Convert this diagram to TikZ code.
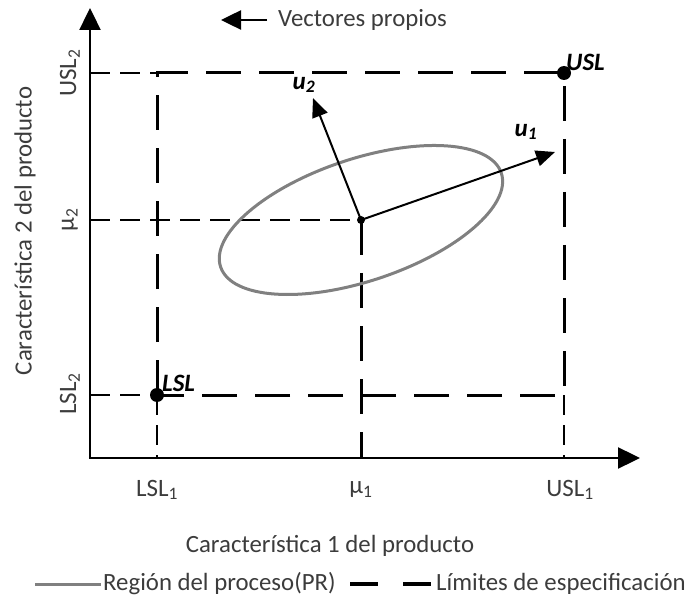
\documentclass[tikz,border=0pt]{standalone}
\usepackage{fontspec}
\setmainfont{Carlito}
\usetikzlibrary{arrows.meta, positioning, calc}
\definecolor{txtgray}{HTML}{3C3C3C}
\definecolor{regiongray}{HTML}{808080}
\tikzset{
  axisline/.style={line width=2.4pt, -{Triangle[length=22pt,width=21pt]}},
  speclim/.style={line width=3pt, dash pattern=on 35pt off 18pt},
  guideline/.style={line width=2pt, dash pattern=on 20pt off 10pt},
  eigvec/.style={line width=2pt, -{Triangle[length=19pt,width=16pt]}},
  biglab/.style={font=\fontsize{24.8}{28}\selectfont, text=txtgray, inner sep=2pt},
  ticklab/.style={font=\fontsize{25}{28}\selectfont, text=txtgray, inner sep=2pt},
  pointlab/.style={font=\fontsize{25}{28}\selectfont\bfseries\itshape, inner sep=1pt},
  specdot/.style={circle, fill=black, inner sep=0pt, minimum size=14pt},
  centdot/.style={circle, fill=black, inner sep=0pt, minimum size=8pt}
}

\begin{document}
\begin{tikzpicture}[x=1pt, y=-1pt]
\useasboundingbox (0,0) rectangle (697,607);

% key points
\coordinate (origin) at (90,458);
\coordinate (ytop)   at (90,8);
\coordinate (xend)   at (640,458);
\coordinate (lsl)    at (157,395);
\coordinate (usl)    at (564,73);
\coordinate (mu)     at (361,220);
\coordinate (u1tip)  at (555,152);
\coordinate (u2tip)  at (313,98);

% guide lines from the axes
\draw[guideline] (origin |- usl) -- (lsl |- usl);
\draw[guideline] (origin |- lsl) -- (lsl);
\draw[guideline] (origin |- mu) -- (mu);
\draw[guideline] (lsl) -- (lsl |- origin);
\draw[guideline] (usl |- lsl) -- (usl |- origin);

% specification limits
\draw[speclim] (lsl) rectangle (usl);
\draw[speclim] (mu) -- (mu |- origin);

% axes
\draw[axisline] (origin) -- (ytop);
\draw[axisline] ([xshift=-1.2pt]origin) -- (xend);

% process region and eigenvectors
\draw[regiongray, line width=3pt, rotate around={18.5:(mu)}] (mu) ellipse [x radius=148, y radius=61];
\draw[eigvec] (mu) -- (u1tip);
\draw[eigvec] (mu) -- (u2tip);
\node[centdot] (mudot) at (mu) {};
\node[pointlab] (u1lab) at (526,132) {u\textsubscript{1}};
\node[pointlab] (u2lab) at (304,85) {u\textsubscript{2}};

% limit points
\node[specdot] (usldot) at (usl) {};
\node[specdot] (lsldot) at (lsl) {};
\node[pointlab, anchor=south west] (usllab) at (565,72) {USL};
\node[pointlab, anchor=south west] (lsllab) at (161,393) {LSL};

% tick labels
\node[ticklab] (lsl1) at (lsl |- 0,490) {LSL\textsubscript{1}};
\node[ticklab] (mu1)  at (mu |- 0,490) {μ\textsubscript{1}};
\node[ticklab] (usl1) at ([xshift=6pt]usl |- 0,490) {USL\textsubscript{1}};
\node[ticklab, rotate=90] (lsl2) at (70,394) {LSL\textsubscript{2}};
\node[ticklab, rotate=90] (mu2)  at (70,220) {μ\textsubscript{2}};
\node[ticklab, rotate=90] (usl2) at (70,73) {USL\textsubscript{2}};

% axis titles
\node[biglab] (xtitle) at (330,546) {Característica 1 del producto};
\node[biglab, rotate=90] (ytitle) at (25,231) {Característica 2 del producto};

% eigenvector key
\node[biglab, anchor=west] (vp) at (276,20) {Vectores propios};
\coordinate (vptip) at (221,20);
\draw[line width=2.5pt, -{Triangle[length=20pt,width=19pt]}, shorten <=9pt] (vp.west) -- (vptip);

% legend
\node[biglab, anchor=west] (regleg) at (101,584) {Región del proceso(PR)};
\node[biglab, anchor=west] (limleg) at (434,584) {Límites de especificación};
\coordinate (regstart) at (35,584);
\coordinate (limstart) at (350,584);
\draw[regiongray, line width=3pt] (regstart) -- (regleg.west);
\draw[line width=3.5pt, dash pattern=on 28pt off 25pt] (limstart) -- ([xshift=-2pt]limleg.west);
\end{tikzpicture}
\end{document}
